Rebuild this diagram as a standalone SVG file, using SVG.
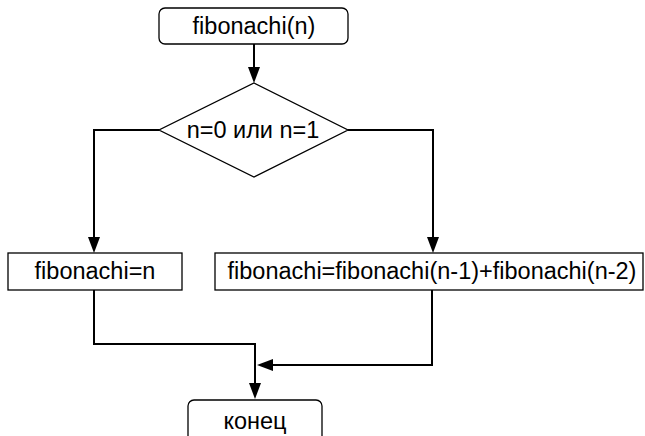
<svg xmlns="http://www.w3.org/2000/svg" width="645" height="436" viewBox="0 0 645 436">
<defs>
<style>
.sh{fill:#fff;stroke:#000;stroke-width:1.3}
.cn{fill:none;stroke:#000;stroke-width:2}
.ah{fill:#000;stroke:none}
text{font-family:"Liberation Sans",Arial,sans-serif;font-size:23.5px;fill:#000;text-anchor:middle}
</style>
</defs>
<rect width="645" height="436" fill="#fff"/>
<g id="connectors">
<path class="cn" d="M254,44 V70"/>
<polygon class="ah" points="248,67 260,67 254,83"/>
<path class="cn" d="M159,130 H94 V240"/>
<polygon class="ah" points="88,237 100,237 94,253"/>
<path class="cn" d="M348,130 H433 V240"/>
<polygon class="ah" points="427,237 439,237 433,253"/>
<path class="cn" d="M94,290 V344 H255 V386"/>
<polygon class="ah" points="249,383 261,383 255,399"/>
<path class="cn" d="M432,290 V365 H270"/>
<polygon class="ah" points="273,359 273,371 257,365"/>
</g>
<g id="start">
<rect class="sh" x="159" y="8" width="189" height="36" rx="6"/>
<text x="254" y="34">fibonachi(n)</text>
</g>
<g id="decision">
<polygon class="sh" points="254,83 348,130 254,177 159,130"/>
<text x="253" y="138">n=0 или n=1</text>
</g>
<g id="assignN">
<rect class="sh" x="8" y="253" width="174" height="37"/>
<text x="95" y="279">fibonachi=n</text>
</g>
<g id="recurse">
<rect class="sh" x="215" y="253" width="428" height="37"/>
<text x="432" y="279">fibonachi=fibonachi(n-1)+fibonachi(n-2)</text>
</g>
<g id="end">
<rect class="sh" x="188" y="400" width="134" height="46" rx="6"/>
<text x="255" y="429">конец</text>
</g>
</svg>
